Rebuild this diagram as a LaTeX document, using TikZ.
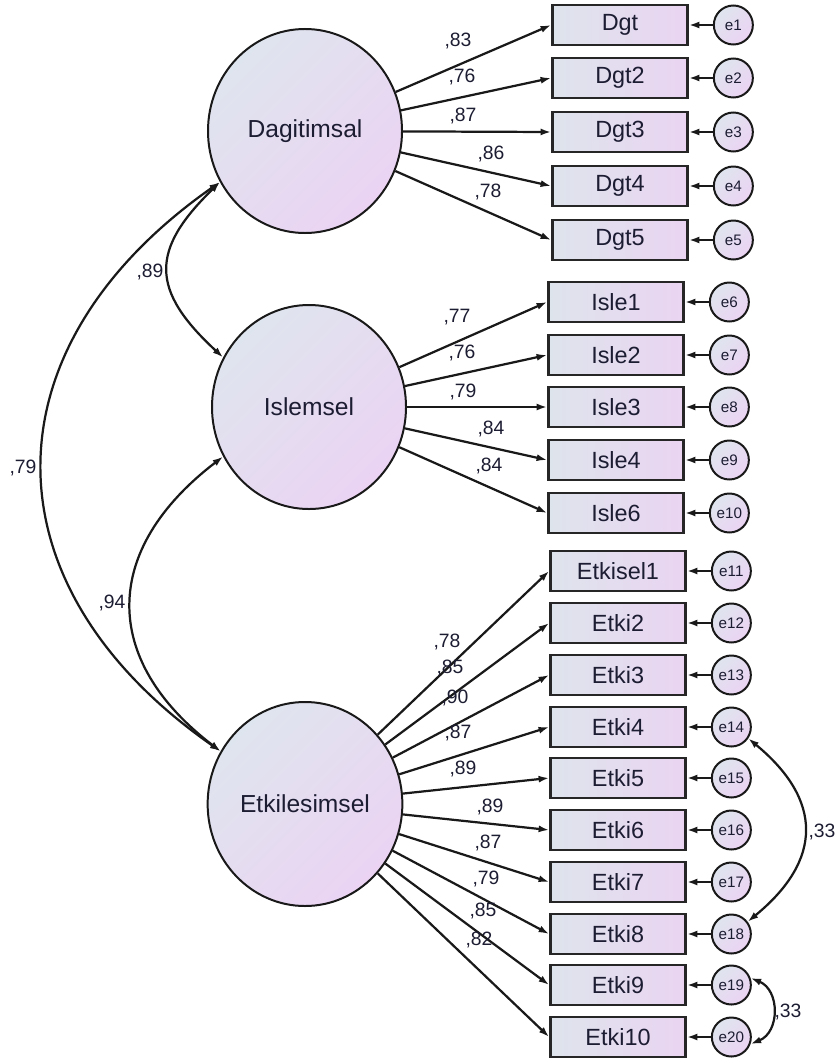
\documentclass[tikz,border=0pt]{standalone}
\usepackage{fontspec}
\setmainfont{Liberation Sans}
\usepackage{tikz}
\usetikzlibrary{shapes.geometric, arrows.meta, positioning}
\definecolor{latleft}{RGB}{223,229,238}
\definecolor{latright}{RGB}{235,211,243}
\definecolor{obsleft}{RGB}{222,228,236}
\definecolor{obsright}{RGB}{234,212,242}
\definecolor{txtnavy}{RGB}{28,28,50}

\begin{document}
\begin{tikzpicture}[
  x=0.03cm, y=-0.03cm,
  lat/.style  = {ellipse, minimum width=5.82cm, minimum height=6.12cm,
                 draw=black!90, line width=1.7pt, top color=latleft,
                 bottom color=latright, shading angle=45,
                 font=\fontsize{21}{24}\selectfont, text=txtnavy},
  obs/.style  = {rectangle, minimum width=4.05cm, minimum height=1.2cm,
                 inner sep=0pt, draw=black!85, line width=2.3pt,
                 left color=obsleft, right color=obsright,
                 font=\fontsize{20}{23}\selectfont, text=txtnavy},
  err/.style  = {circle, minimum size=1.17cm, inner sep=0pt,
                 draw=black!90, line width=1.7pt, top color=latleft,
                 bottom color=latright, shading angle=45,
                 font=\fontsize{13}{15}\selectfont, text=txtnavy},
  arr/.style  = {-{Latex[length=9pt, width=6pt]}, line width=1.9pt, black!90},
  cov/.style  = {{Latex[length=9pt, width=6pt]}-{Latex[length=9pt, width=6pt]},
                 line width=1.9pt, black!90},
  coef/.style = {font=\fontsize{16.5}{19}\selectfont, text=txtnavy, inner sep=0pt},
]
  \useasboundingbox (0,0) rectangle (837,1063);

  % latent factors
  \node[lat] (dag) at (305,131) {Dagitimsal};
  \node[lat] (isl) at (309,407) {Islemsel};
  \node[lat] (etk) at (305,804) {Etkilesimsel};

  % indicators
  \node[obs] (dgt)  at (620,25)  {Dgt};
  \node[obs] (dgt2) at (620,78)  {Dgt2};
  \node[obs] (dgt3) at (620,132) {Dgt3};
  \node[obs] (dgt4) at (620,186) {Dgt4};
  \node[obs] (dgt5) at (620,240) {Dgt5};

  \node[obs] (isle1) at (616,302) {Isle1};
  \node[obs] (isle2) at (616,355) {Isle2};
  \node[obs] (isle3) at (616,407) {Isle3};
  \node[obs] (isle4) at (616,460) {Isle4};
  \node[obs] (isle6) at (616,513) {Isle6};

  \node[obs] (etkisel1) at (618,571)  {Etkisel1};
  \node[obs] (etki2)    at (618,623)  {Etki2};
  \node[obs] (etki3)    at (618,675)  {Etki3};
  \node[obs] (etki4)    at (618,727)  {Etki4};
  \node[obs] (etki5)    at (618,778)  {Etki5};
  \node[obs] (etki6)    at (618,830)  {Etki6};
  \node[obs] (etki7)    at (618,882)  {Etki7};
  \node[obs] (etki8)    at (618,934)  {Etki8};
  \node[obs] (etki9)    at (618,985)  {Etki9};
  \node[obs] (etki10)   at (618,1037) {Etki10};

  % error terms
  \node[err, right=0.72cm of dgt]  (e1) {e1};
  \node[err, right=0.72cm of dgt2] (e2) {e2};
  \node[err, right=0.72cm of dgt3] (e3) {e3};
  \node[err, right=0.72cm of dgt4] (e4) {e4};
  \node[err, right=0.72cm of dgt5] (e5) {e5};
  \node[err, right=0.72cm of isle1] (e6)  {e6};
  \node[err, right=0.72cm of isle2] (e7)  {e7};
  \node[err, right=0.72cm of isle3] (e8)  {e8};
  \node[err, right=0.72cm of isle4] (e9)  {e9};
  \node[err, right=0.72cm of isle6] (e10) {e10};
  \node[err, right=0.72cm of etkisel1] (e11) {e11};
  \node[err, right=0.72cm of etki2]    (e12) {e12};
  \node[err, right=0.72cm of etki3]    (e13) {e13};
  \node[err, right=0.72cm of etki4]    (e14) {e14};
  \node[err, right=0.72cm of etki5]    (e15) {e15};
  \node[err, right=0.72cm of etki6]    (e16) {e16};
  \node[err, right=0.72cm of etki7]    (e17) {e17};
  \node[err, right=0.72cm of etki8]    (e18) {e18};
  \node[err, right=0.72cm of etki9]    (e19) {e19};
  \node[err, right=0.72cm of etki10]   (e20) {e20};

  % loadings
  \draw[arr] (dag) -- (dgt.west);
  \draw[arr] (dag) -- (dgt2.west);
  \draw[arr] (dag) -- (dgt3.west);
  \draw[arr] (dag) -- (dgt4.west);
  \draw[arr] (dag) -- (dgt5.west);
  \draw[arr] (isl) -- (isle1.west);
  \draw[arr] (isl) -- (isle2.west);
  \draw[arr] (isl) -- (isle3.west);
  \draw[arr] (isl) -- (isle4.west);
  \draw[arr] (isl) -- (isle6.west);
  \draw[arr] (etk) -- (etkisel1.west);
  \draw[arr] (etk) -- (etki2.west);
  \draw[arr] (etk) -- (etki3.west);
  \draw[arr] (etk) -- (etki4.west);
  \draw[arr] (etk) -- (etki5.west);
  \draw[arr] (etk) -- (etki6.west);
  \draw[arr] (etk) -- (etki7.west);
  \draw[arr] (etk) -- (etki8.west);
  \draw[arr] (etk) -- (etki9.west);
  \draw[arr] (etk) -- (etki10.west);

  % errors to indicators
  \draw[arr] (e1) -- (dgt.east);
  \draw[arr] (e2) -- (dgt2.east);
  \draw[arr] (e3) -- (dgt3.east);
  \draw[arr] (e4) -- (dgt4.east);
  \draw[arr] (e5) -- (dgt5.east);
  \draw[arr] (e6)  -- (isle1.east);
  \draw[arr] (e7)  -- (isle2.east);
  \draw[arr] (e8)  -- (isle3.east);
  \draw[arr] (e9)  -- (isle4.east);
  \draw[arr] (e10) -- (isle6.east);
  \draw[arr] (e11) -- (etkisel1.east);
  \draw[arr] (e12) -- (etki2.east);
  \draw[arr] (e13) -- (etki3.east);
  \draw[arr] (e14) -- (etki4.east);
  \draw[arr] (e15) -- (etki5.east);
  \draw[arr] (e16) -- (etki6.east);
  \draw[arr] (e17) -- (etki7.east);
  \draw[arr] (e18) -- (etki8.east);
  \draw[arr] (e19) -- (etki9.east);
  \draw[arr] (e20) -- (etki10.east);

  % covariances
  \draw[cov] (dag.211) .. controls (150,250) and (150,290) .. (isl.150);
  \draw[cov] (isl.210) .. controls (101,550) and (101,660) .. (etk.148);
  \draw[cov] (dag.211) .. controls (-17,348) and (-17,586) .. (etk.148);
  \draw[cov] (e14.-34) .. controls (823,800) and (823,860) .. (e18.37);
  \draw[cov] (e19.20) .. controls (780,990) and (780,1032) .. (e20.-20);

  % coefficients
  \node[coef] (c1) at (458,41)  {,83};
  \node[coef] (c2) at (462,77)  {,76};
  \node[coef] (c3) at (463,116) {,87};
  \node[coef] (c4) at (491,154) {,86};
  \node[coef] (c5) at (488,192) {,78};
  \node[coef] (c6)  at (457,317) {,77};
  \node[coef] (c7)  at (462,353) {,76};
  \node[coef] (c8)  at (463,392) {,79};
  \node[coef] (c9)  at (491,429) {,84};
  \node[coef] (c10) at (489,466) {,84};
  \node[coef] (c11) at (447,642) {,78};
  \node[coef] (c12) at (450,668) {,85};
  \node[coef] (c13) at (455,698) {,90};
  \node[coef] (c14) at (458,733) {,87};
  \node[coef] (c15) at (463,769) {,89};
  \node[coef] (c16) at (490,807) {,89};
  \node[coef] (c17) at (488,843) {,87};
  \node[coef] (c18) at (486,879) {,79};
  \node[coef] (c19) at (483,911) {,85};
  \node[coef] (c20) at (479,940) {,82};
  \node[coef] (r89) at (150,272) {,89};
  \node[coef] (r79) at (23,468)  {,79};
  \node[coef] (r94) at (112,603) {,94};
  \node[coef] (r33a) at (822,832)  {,33};
  \node[coef] (r33b) at (788,1012) {,33};
\end{tikzpicture}
\end{document}
